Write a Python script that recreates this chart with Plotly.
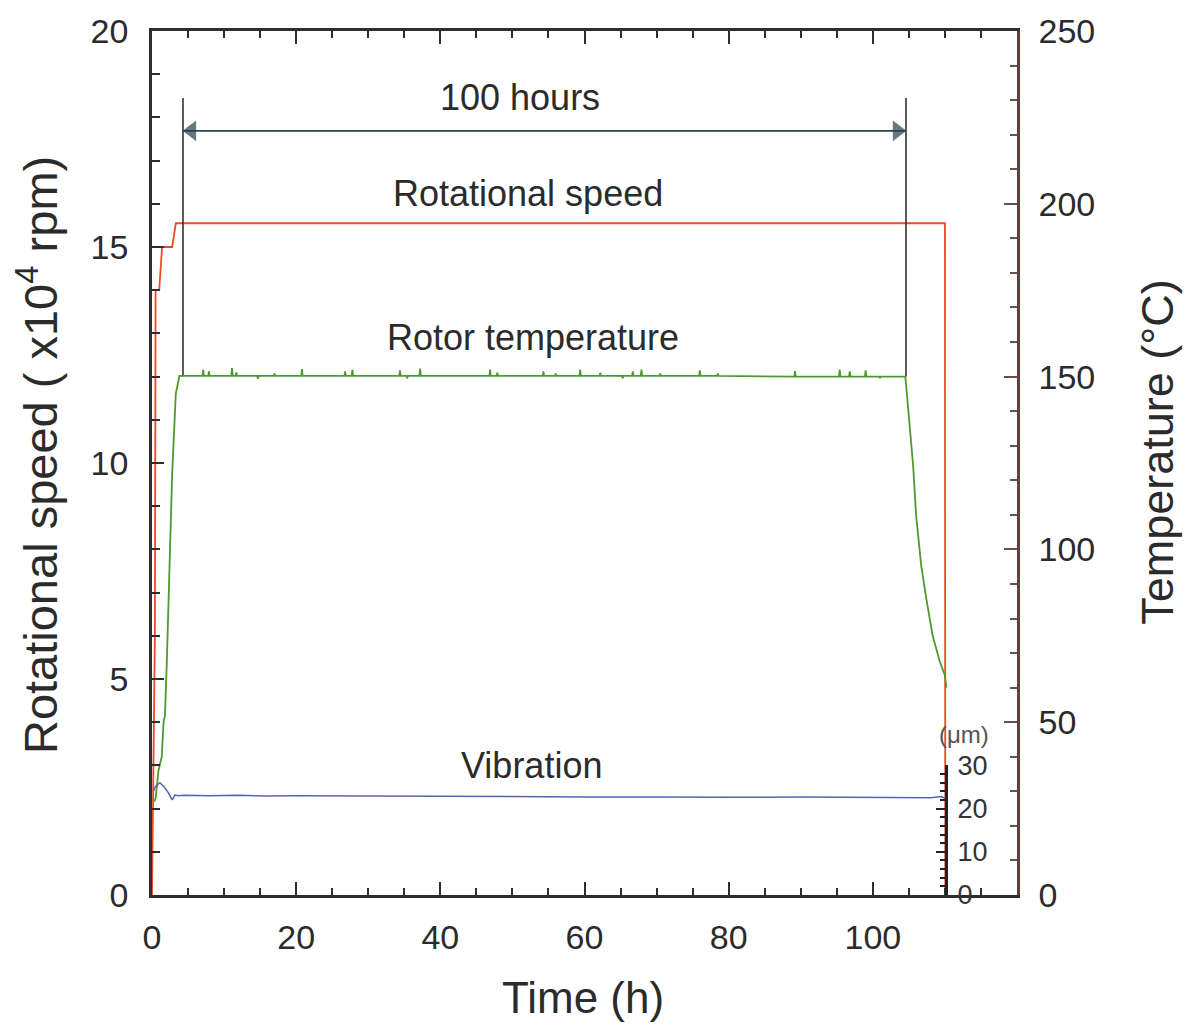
import plotly.graph_objects as go

# ---------------- data ----------------
# Rotational speed (x10^4 rpm) vs time (h)
speed_t = [0.0, 0.4, 0.5, 1.0, 1.4, 2.8, 3.3, 110.0, 110.05]
speed_v = [0.0, 6.0, 14.0, 14.0, 15.0, 15.0, 15.55, 15.55, 0.0]

# Rotor temperature (deg C) vs time (h)
temp_t = [0.3, 0.5, 0.9, 1.35, 1.6, 1.8, 2.05, 2.3, 2.8, 3.3, 3.8,
          7.0, 7.1, 7.2, 7.8, 7.9, 8.0, 11.0, 11.1, 11.2, 11.6, 11.7, 11.8,
          14.6, 14.7, 14.8, 16.9, 17.0, 17.1, 20.7, 20.8, 20.9,
          26.7, 26.8, 26.9, 27.7, 27.8, 27.9, 34.3, 34.4, 34.5, 35.3, 35.4, 35.5,
          37.1, 37.2, 37.3, 46.8, 46.9, 47.0, 47.8, 47.9, 48.0,
          54.2, 54.3, 54.4, 55.9, 56.0, 56.1, 59.3, 59.4, 59.5, 62.1, 62.2, 62.3,
          65.2, 65.3, 65.4, 66.6, 66.7, 66.8, 67.8, 67.9, 68.0, 70.4, 70.5, 70.6,
          75.9, 76.0, 76.1, 78.4, 78.5, 78.6, 89.1, 89.2, 89.3,
          95.3, 95.4, 95.5, 96.7, 96.8, 96.9, 98.9, 99.0, 99.1, 100.9, 101.0, 101.1,
          104.5, 104.6, 105.1, 105.6, 106.0, 106.7, 107.4, 108.3, 109.3, 110.0, 110.2]
temp_v = [27.0, 28.0, 36.0, 40.0, 50.0, 52.0, 67.0, 86.0, 122.0, 145.0, 150.2,
          150.2, 152.0, 150.2, 150.2, 151.5, 150.2, 150.2, 152.5, 150.2, 150.2, 151.2, 150.2,
          150.2, 149.4, 150.2, 150.2, 150.9, 150.2, 150.2, 152.2, 150.2,
          150.2, 151.5, 150.2, 150.2, 152.0, 150.2, 150.2, 151.8, 150.2, 150.2, 149.5, 150.2,
          150.2, 152.3, 150.2, 150.2, 152.0, 150.2, 150.2, 151.1, 150.2,
          150.2, 151.5, 150.2, 150.2, 150.9, 150.2, 150.2, 152.0, 150.2, 150.2, 151.1, 150.2,
          150.2, 149.5, 150.2, 150.2, 151.5, 150.2, 150.2, 152.0, 150.2, 150.2, 150.9, 150.2,
          150.2, 151.8, 150.2, 150.2, 150.9, 150.2, 150.0, 151.6, 150.0,
          150.0, 152.0, 150.0, 150.0, 151.5, 150.0, 150.0, 151.8, 150.0, 150.0, 149.6, 150.0,
          150.0, 148.0, 136.0, 124.0, 110.0, 95.5, 86.0, 75.0, 67.5, 63.5, 60.0]

# Vibration (micrometre) vs time (h)
vib_t = [0.2, 0.5, 1.1, 1.7, 2.3, 2.8, 3.2, 3.6, 4.5, 8.0, 12.0, 16.0, 20.0, 30.0, 40.0,
         45.0, 50.0, 60.0, 70.0, 80.0, 90.0, 100.0, 105.0, 108.0, 109.5, 110.0]
vib_v = [24.0, 25.2, 26.0, 25.0, 23.6, 22.0, 23.2, 23.0, 23.1, 23.0, 23.1, 22.9, 23.0,
         22.9, 22.8, 22.7, 22.8, 22.7, 22.7, 22.6, 22.7, 22.6, 22.6, 22.5, 22.8, 22.4]

# "100 hours" bracket (time, h) and its levels on the speed axis
bracket_t = [4.3, 104.6]
bracket_top = 18.45
bracket_bottom = 12.0
arrow_level = 17.69
arrow_tip_t = [5.5, 103.4]   # centres of the two arrowheads

# ticks and tick labels
time_ticks = [0, 20, 40, 60, 80, 100]
time_labels = ["0", "20", "40", "60", "80", "100"]
time_unlabelled_ticks = [10, 30, 50, 70, 90, 110]
speed_ticks = [0, 5, 10, 15, 20]
temp_ticks = [0, 50, 100, 150, 200, 250]
vib_ticks = [0, 10, 20, 30]

# ---------------- figure ----------------
TXT = "#2b2b2b"
FONT = "Liberation Sans, Arial, sans-serif"
BODY = 8  # default page margin of the html body, compensated below

fig = go.Figure()

fig.add_trace(go.Scatter(x=speed_t, y=speed_v, mode="lines",
                         line=dict(color="#ee4a28", width=1.8), xaxis="x", yaxis="y",
                         showlegend=False, hoverinfo="skip"))
fig.add_trace(go.Scatter(x=temp_t, y=temp_v, mode="lines",
                         line=dict(color="#4f9a2e", width=1.8), xaxis="x", yaxis="y2",
                         showlegend=False, hoverinfo="skip"))
fig.add_trace(go.Scatter(x=vib_t, y=vib_v, mode="lines",
                         line=dict(color="#5565aa", width=1.5), xaxis="x", yaxis="y3",
                         showlegend=False, hoverinfo="skip"))
for bt in bracket_t:
    fig.add_trace(go.Scatter(x=[bt, bt], y=[bracket_bottom, bracket_top], mode="lines",
                             line=dict(color="#333333", width=1.6), xaxis="x", yaxis="y",
                             showlegend=False, hoverinfo="skip"))
# double-headed arrow
fig.add_trace(go.Scatter(x=bracket_t, y=[arrow_level, arrow_level], mode="lines",
                         line=dict(color="#2c4650", width=1.8), xaxis="x", yaxis="y",
                         showlegend=False, hoverinfo="skip"))
fig.add_trace(go.Scatter(x=arrow_tip_t, y=[arrow_level, arrow_level], mode="markers",
                         marker=dict(symbol=["triangle-left", "triangle-right"], size=[18, 18],
                                     color="#26404a", line=dict(width=0)),
                         xaxis="x", yaxis="y", showlegend=False, hoverinfo="skip"))

annotations = [
    dict(x=51.0, y=18.45, xref="x", yref="y", text="100 hours", showarrow=False,
         font=dict(size=36, color=TXT, family=FONT)),
    dict(x=52.1, y=16.25, xref="x", yref="y", text="Rotational speed", showarrow=False,
         font=dict(size=36, color=TXT, family=FONT)),
    dict(x=52.9, y=12.9, xref="x", yref="y", text="Rotor temperature", showarrow=False,
         font=dict(size=36, color=TXT, family=FONT)),
    dict(x=52.6, y=2.99, xref="x", yref="y", text="Vibration", showarrow=False,
         font=dict(size=36, color=TXT, family=FONT)),
    dict(x=112.6, y=3.72, xref="x", yref="y", text="(μm)", showarrow=False,
         font=dict(size=24, color="#555555", family=FONT)),
    dict(x=-0.132, y=0.509, xref="paper", yref="paper", textangle=-90,
         text="Rotational speed ( x10<sup>4</sup> rpm)", showarrow=False,
         xanchor="center", yanchor="middle",
         font=dict(size=47, color=TXT, family=FONT)),
    dict(x=1.163, y=0.513, xref="paper", yref="paper", textangle=-90,
         text="Temperature (°C)", showarrow=False, xanchor="center", yanchor="middle",
         font=dict(size=45, color=TXT, family=FONT)),
    dict(x=0.498, y=-0.119, xref="paper", yref="paper", text="Time (h)",
         showarrow=False, xanchor="center", yanchor="middle",
         font=dict(size=44, color=TXT, family=FONT)),
]

AX = "#2e2e2e"
fig.update_layout(
    width=1193 - BODY, height=1031 - BODY,
    margin=dict(l=152 - BODY, r=176, t=31 - BODY, b=136, autoexpand=False),
    paper_bgcolor="white", plot_bgcolor="rgba(0,0,0,0)",
    font=dict(family=FONT, color=TXT),
    annotations=annotations,
    xaxis=dict(range=[0, 120], tickmode="array", tickvals=time_ticks, ticktext=time_labels,
               ticks="inside", ticklen=13, tickwidth=2.2, tickcolor=AX,
               minor=dict(dtick=5, tick0=0, ticks="inside", ticklen=7, tickwidth=2, tickcolor=AX),
               showline=True, linecolor=AX, linewidth=2.5, mirror="ticks",
               showgrid=False, zeroline=False, ticklabelstandoff=10, automargin=False,
               tickfont=dict(size=34, color=TXT), anchor="y"),
    xaxis2=dict(range=[0, 120], overlaying="x", anchor="y", side="bottom",
                tickmode="array", tickvals=time_unlabelled_ticks, showticklabels=False,
                ticks="inside", ticklen=13, tickwidth=2.2, tickcolor=AX,
                showline=False, mirror="ticks", showgrid=False, zeroline=False,
                automargin=False),
    yaxis=dict(range=[0, 20], tickmode="array", tickvals=speed_ticks,
               ticks="inside", ticklen=12, tickwidth=2.2, tickcolor=AX,
               minor=dict(dtick=1, tick0=0, ticks="inside", ticklen=8, tickwidth=2, tickcolor=AX),
               showline=True, linecolor=AX, linewidth=2.5, automargin=False,
               showgrid=False, zeroline=False, ticklabelstandoff=14,
               tickfont=dict(size=34, color=TXT)),
    yaxis2=dict(range=[0, 250], tickmode="array", tickvals=temp_ticks, overlaying="y",
                side="right", ticks="inside", ticklen=13, tickwidth=2, tickcolor="#6a5048",
                minor=dict(dtick=10, tick0=0, ticks="inside", ticklen=7, tickwidth=1.8,
                           tickcolor="#6a5048"),
                showline=True, linecolor="#5e4238", linewidth=2.5, automargin=False,
                showgrid=False, zeroline=False, ticklabelstandoff=12,
                tickfont=dict(size=34, color=TXT)),
    yaxis3=dict(range=[0, 30], domain=[0, 0.15], anchor="free", position=0.9183,
                side="right", tickmode="array", tickvals=vib_ticks,
                ticks="inside", ticklen=10, tickwidth=2, tickcolor="#222222",
                minor=dict(dtick=2, tick0=0, ticks="inside", ticklen=6, tickwidth=1.8,
                           tickcolor="#222222"),
                showline=True, linecolor="#222222", linewidth=2.5, automargin=False,
                showgrid=False, zeroline=False, ticklabelstandoff=4,
                tickfont=dict(size=27, color="#333333")),
)

fig.write_html("out.html", config={"displayModeBar": False})
